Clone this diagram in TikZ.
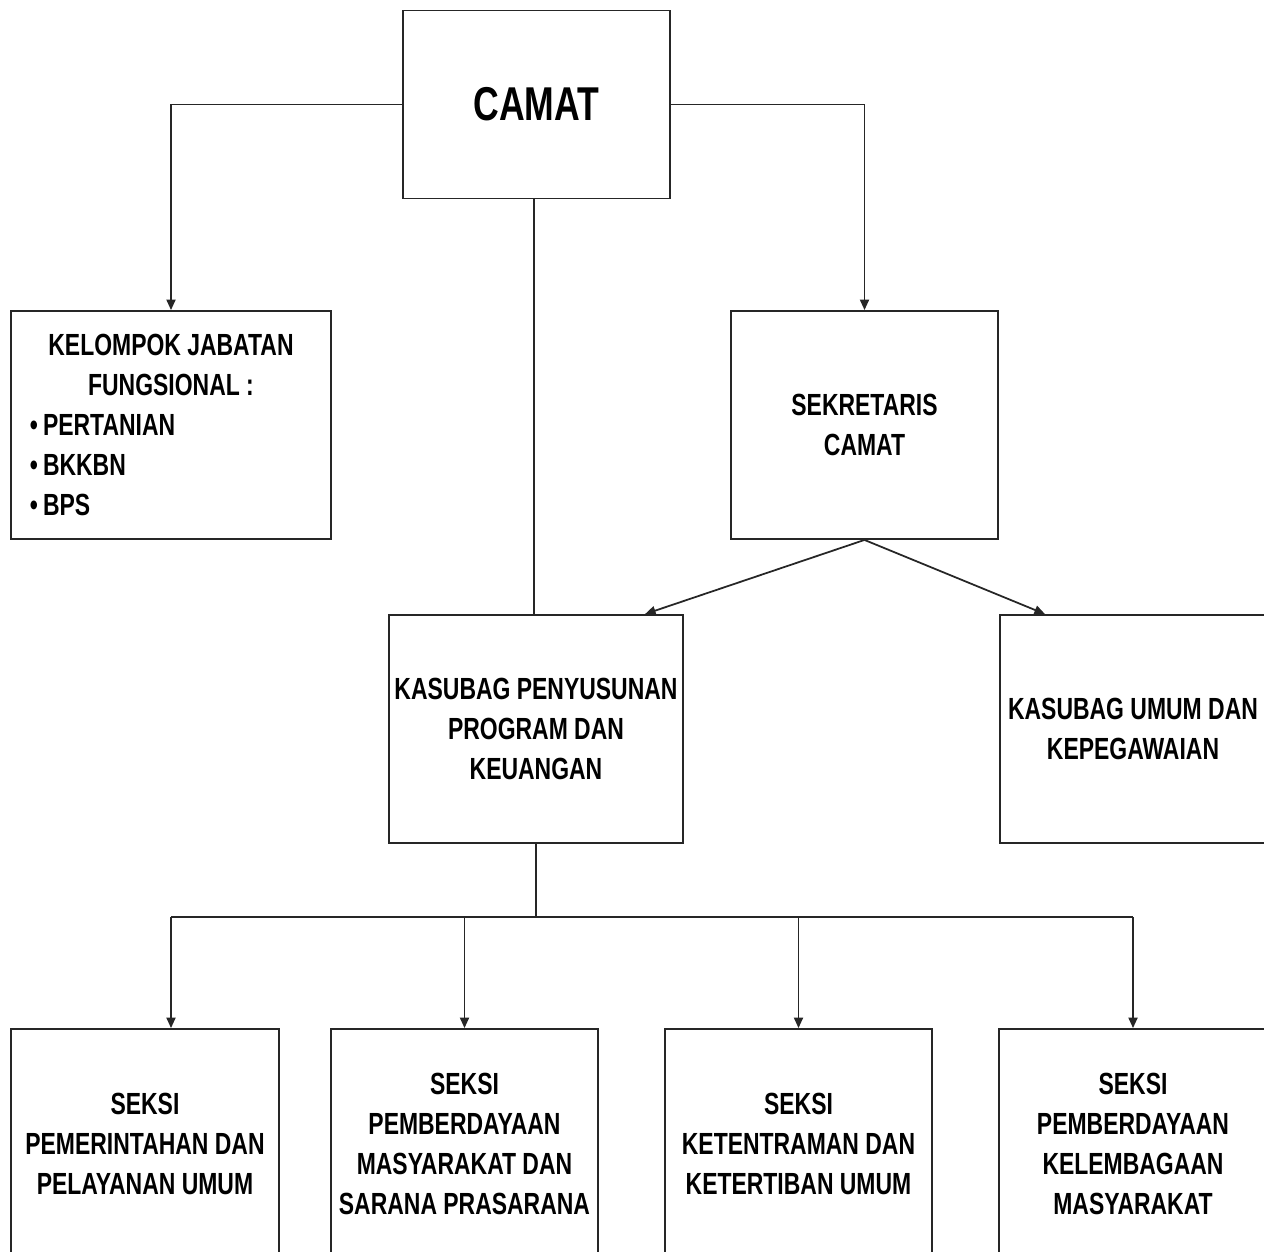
\documentclass[tikz,border=0pt]{standalone}
\usepackage{fontspec}
\setmainfont[FakeStretch=0.75]{Liberation Sans}
\usetikzlibrary{arrows.meta}
\usetikzlibrary{positioning}

\begin{document}
\begin{tikzpicture}[x=0.01cm,y=-0.01cm]

        \useasboundingbox (0,0) rectangle (1264,1252);
        \clip (0,0) rectangle (1264,1252);

        % Boxes of the chart, the tuple is the centre of each box
        \begin{scope}[every node/.style={rectangle,draw=black!85,line width=0.5pt,align=center,inner sep=0pt,
                  minimum height=2.28cm,font=\bfseries\fontsize{8.7}{11.4}\selectfont}]
        \node[minimum width=2.67cm,minimum height=1.88cm,font=\bfseries\fontsize{13.5}{16}\selectfont] (camat) at (536.5,104.5) {CAMAT};
        \node[minimum width=3.2cm] (kelompok) at (171,425)
            {KELOMPOK JABATAN\\ FUNGSIONAL :\\ \makebox[2.82cm][l]{•\,PERTANIAN}\\ \makebox[2.82cm][l]{•\,BKKBN}\\ \makebox[2.82cm][l]{•\,BPS}};
        \node[minimum width=2.67cm] (sekretaris) at (864.5,425) {SEKRETARIS\\ CAMAT};
        \node[minimum width=2.94cm] (penyusunan) at (536,729) {KASUBAG PENYUSUNAN\\ PROGRAM DAN\\ KEUANGAN};
        \node[minimum width=2.66cm] (umum) at (1133,729) {KASUBAG UMUM DAN\\ KEPEGAWAIAN};

        \node[minimum width=2.68cm,minimum height=2.3cm] (seksiA) at (145,1144) {SEKSI\\ PEMERINTAHAN DAN\\ PELAYANAN UMUM};
        \node[minimum width=2.67cm,minimum height=2.3cm] (seksiB) at (464.5,1144) {SEKSI\\ PEMBERDAYAAN\\ MASYARAKAT DAN\\ SARANA PRASARANA};
        \node[minimum width=2.67cm,minimum height=2.3cm] (seksiC) at (798.5,1144) {SEKSI\\ KETENTRAMAN DAN\\ KETERTIBAN UMUM};
        \node[minimum width=2.68cm,minimum height=2.3cm] (seksiD) at (1133,1144) {SEKSI\\ PEMBERDAYAAN\\ KELEMBAGAAN\\ MASYARAKAT};
        \end{scope}

        % Lines between the boxes
        \begin{scope}[>={Triangle[length=3pt,width=2.6pt]},draw=black!85,line width=0.5pt,
                  every edge/.style={draw=black!85,line width=0.5pt}]
        \draw[->] (camat.west) -| (kelompok.north);
        \draw[->] (camat.east) -| (sekretaris.north);
        \path [-] ([xshift=-0.025cm]camat.south) edge ([xshift=-0.025cm]camat.south |- penyusunan.north);

        \path [->] (sekretaris.south) edge ([xshift=1.09cm]penyusunan.north);
        \path [->] (sekretaris.south) edge ([xshift=-0.88cm]umum.north);

        \coordinate (busL) at (171,917);
        \coordinate (busR) at (1133,917);
        \draw (penyusunan.south) -- (penyusunan.south |- busL);
        \draw (busL) -- (busR);
        \path [->] (busL) edge (busL |- seksiA.north);
        \path [->] (seksiB.north |- busL) edge (seksiB.north);
        \path [->] (seksiC.north |- busL) edge (seksiC.north);
        \path [->] (busR) edge (seksiD.north);
        \end{scope}

\end{tikzpicture}
\end{document}
